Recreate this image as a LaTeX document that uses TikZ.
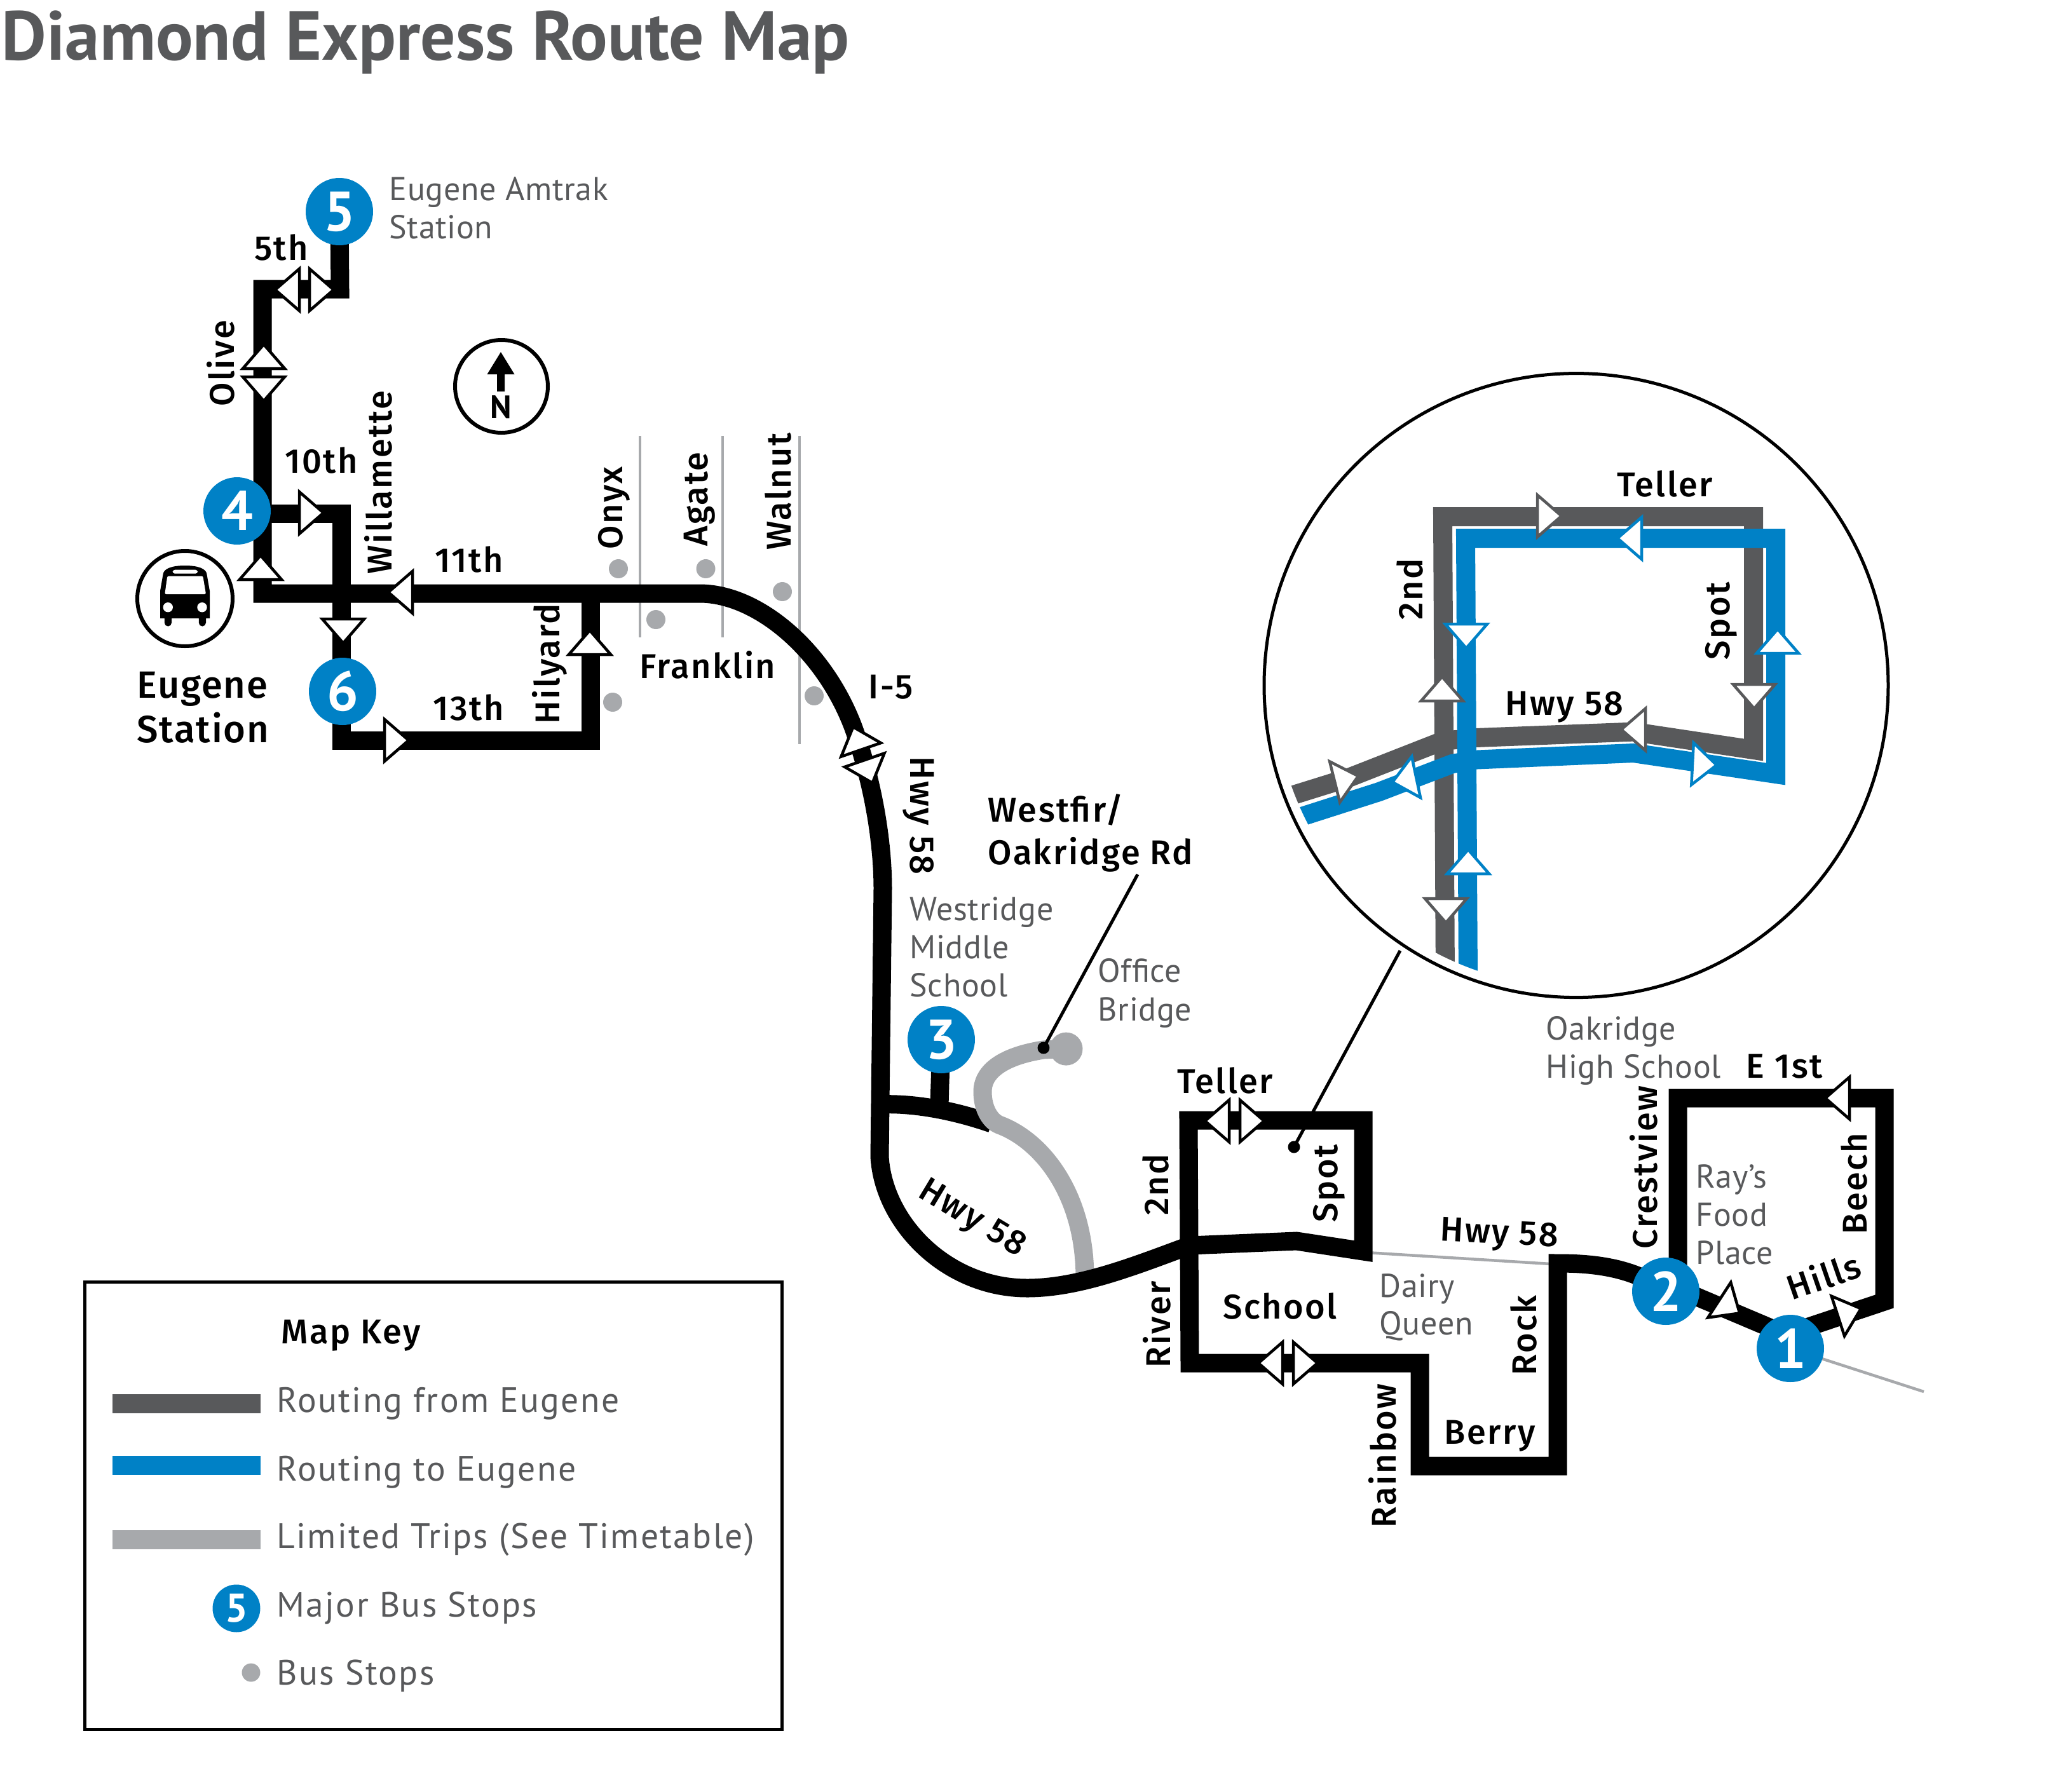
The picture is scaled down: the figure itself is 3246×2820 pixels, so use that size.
\documentclass[tikz,border=0pt]{standalone}
\usepackage{fontspec}
\setmainfont{PT Sans}
\newfontfamily\labfam{Fira Sans Medium}
\definecolor{rblue}{HTML}{0081C6}
\definecolor{rdark}{HTML}{58595B}
\definecolor{rlight}{HTML}{A7A9AC}
\newcommand{\fb}{\labfam\addfontfeature{LetterSpace=4.5}\fontsize{15.4pt}{16pt}\selectfont}
\newcommand{\fe}{\labfam\addfontfeature{LetterSpace=3}\fontsize{17pt}{17pt}\selectfont}
\newcommand{\fg}{\addfontfeature{LetterSpace=1.2}\fontsize{14.8pt}{16pt}\selectfont}
\newcommand{\fk}{\addfontfeature{LetterSpace=4.2}\fontsize{15.8pt}{16pt}\selectfont}
\newcommand{\arw}[4][black]{\draw[arrowtri,draw=#1,shift={(#2,#3)},rotate=#4] (-1,0) -- (-39,-33) -- (-39,33) -- cycle;}
\tikzset{
  arrowtri/.style={fill=white,line width=0.45mm,miter limit=10,line join=miter},
  route/.style={line width=2.9mm,black,line join=miter},
  inroute/.style={line width=3mm,line join=miter},
  thin grey/.style={line width=0.45mm,rlight},
  lead/.style={line width=0.5mm,black},
  lab/.style={font=\fb,anchor=base west,inner sep=0pt,text=black},
  glab/.style={font=\fg,anchor=base west,inner sep=0pt,text=rdark},
  klab/.style={font=\fk,anchor=base west,inner sep=0pt,text=rdark},
  stopn/.style={circle,fill=rblue,inner sep=0pt,minimum size=10.6mm,text=white,font=\fontsize{25pt}{25pt}\selectfont\bfseries},
  dot/.style={circle,fill=rlight,inner sep=0pt,minimum size=3mm},
  ring/.style={circle,draw=black,line width=0.6mm,fill=white,inner sep=0pt,minimum size=15mm},
}
\begin{document}
\begin{tikzpicture}[x=0.1mm,y=-0.1mm]
\useasboundingbox (0,0) rectangle (3246,2820);
\node[font=\fontsize{31.1pt}{32pt}\selectfont\bfseries,anchor=base west,inner sep=0pt,text=rdark] (title) at (2,94) {Diamond Express Route Map};

% coordinates of stops
\coordinate (p1) at (2817,2122);
\coordinate (p2) at (2621,2032);
\coordinate (p3) at (1481,1636);
\coordinate (p4) at (373,804);
\coordinate (p5) at (534,333);
\coordinate (p6) at (539,1088);
\coordinate (lim) at (1677.5,1650.6);

% thin grey street lines
\draw[thin grey] (1007,686) -- (1007,1003);
\draw[thin grey] (1137,686) -- (1137,1003);
\draw[thin grey] (1258,686) -- (1258,1171);
\draw[thin grey] (2150,1971) -- (2440,1989);
\draw[thin grey] (p1) -- (3027,2190);

% routes
\draw[route] (p3) -- (1478,1740);
\draw[route] (1384,1738) .. controls (1430,1736) and (1490,1744) .. (1560,1768);
\draw[line width=2.9mm,rlight] (lim) -- (1642,1652) .. controls (1590,1660) and (1546,1680) .. (1546,1718)
  .. controls (1546,1745) and (1558,1764) .. (1572,1770) .. controls (1640,1795) and (1707,1880) .. (1707,2011);
\draw[route] (p5) -- (535,455) -- (413,455) -- (413,934) -- (1101,934)
  .. controls (1190,934) and (1295,1020) .. (1342,1143) .. controls (1372,1225) and (1389,1320) .. (1389,1399)
  -- (1384,1820) .. controls (1390,1925) and (1490,2027) .. (1616,2027) .. controls (1700,2027) and (1790,1990) .. (1872,1960)
  -- (2040,1953) -- (2145,1969) -- (2145,1763) -- (1870,1763) -- (1872,2145) -- (2234,2145) -- (2234,2307) -- (2451,2307) -- (2451,1988)
  .. controls (2510,1988) and (2570,1995) .. (p2);
\draw[route] (413,808) -- (537,808) -- (537,1165) -- (929,1165) -- (929,934);
\draw[route] (p2) -- (2640,2032) -- (2640,1728) -- (2965,1728) -- (2965,2048) -- (2810,2100) -- (2621,2020);

% arrows on the black routes
\arw{432}{456}{180}\arw{526}{456}{0}
\arw{415}{541}{90}\arw{415}{632}{-90}
\arw{510}{807}{0}\arw{410}{873}{90}
\arw{610}{932}{180}\arw{540}{1013}{-90}
\arw{928}{991}{90}\arw{644}{1165}{0}
\arw{1342}{1143}{109}\arw{1373}{1233}{-71}
\arw{1895}{1764}{180}\arw{1990}{1764}{0}
\arw{1979}{2145}{180}\arw{2074}{2145}{0}
\arw{2871}{1728}{180}\arw{2738}{2067}{-33}\arw{2929}{2059}{18}

% leaders
\coordinate (lt1) at (1642,1649);
\coordinate (lt2) at (2036,1805);
\draw[lead] (lt1) -- (1790,1376);
\draw[lead] (lt2) -- (2203,1496);
\fill (lt1) circle[radius=9.5];
\fill (lt2) circle[radius=9.5];
\node[dot,minimum size=5.2mm] (limdot) at (lim) {};

% dots
\node[dot] (d1) at (973,895) {};
\node[dot] (d2) at (1110.5,895) {};
\node[dot] (d3) at (1032,975) {};
\node[dot] (d4) at (964,1105) {};
\node[dot] (d5) at (1231,931) {};
\node[dot] (d6) at (1281,1095) {};

% stops
\node[stopn] (s1) at (p1) {1};
\node[stopn] (s2) at (p2) {2};
\node[stopn] (s3) at (p3) {3};
\node[stopn] (s4) at (p4) {4};
\node[stopn] (s5) at (p5) {5};
\node[stopn] (s6) at (p6) {6};

% north
\node[ring,minimum size=14.6mm] (north) at (789,608) {};
\fill (788,554) -- (809.5,589) -- (794,589) -- (794,616) -- (782,616) -- (782,589) -- (766.5,589) -- cycle;
\node[font=\fontsize{14.5pt}{15pt}\selectfont\bfseries,inner sep=0pt,text=black] (nlab) at (788,641) {N};

% bus
\node[ring] (busring) at (291,942) {};
\fill (252,973) -- (252,930) -- (256.7,903) .. controls (258,895) and (270,890) .. (291,890) .. controls (312,890) and (324,895) .. (325.3,903) -- (330,930) -- (330,973) -- (324,973) -- (324,980) arc[start angle=0,end angle=180,radius=5.6] -- (312.8,973) -- (270,973) -- (270,980) arc[start angle=0,end angle=180,radius=5.6] -- (258.8,973) -- cycle;
\fill[white,rounded corners=0.6pt] (263.3,906.7) -- (319.3,906.7) -- (324,935) -- (259.3,935) -- cycle;
\fill[white,rounded corners=1pt] (271.7,896.7) rectangle (311,902.7);
\fill[white] (264.3,955.7) circle[radius=7.7];
\fill[white] (318,955.7) circle[radius=7.7];

% inset
\begin{scope}
\clip (2480,1078.6) circle[radius=475];
\draw[inroute,rdark] (2274,1540) -- (2270,813) -- (2759,813) -- (2759,1180) -- (2570,1151.6) -- (2322,1161) -- (2270,1166) -- (2122,1224) -- (2000,1262);
\draw[inroute,rblue] (2310,1540) -- (2306,847) -- (2794,847) -- (2794,1218) -- (2570,1185) -- (2322,1195.6) -- (2285,1202) -- (2170,1246) -- (2020,1294);
\end{scope}
\draw[line width=0.5mm,black] (2480,1078.6) circle[radius=491];
\arw[rdark]{2458}{812}{0}\arw[rblue]{2544}{847}{180}
\arw[rblue]{2307}{1021}{-90}\arw[rdark]{2269}{1064}{90}
\arw[rdark]{2760}{1116}{-90}\arw[rblue]{2797}{989}{90}
\arw[rdark]{2550}{1148}{180}\arw[rblue]{2702}{1204}{-3}
\arw[rdark]{2138}{1221}{14}\arw[rblue]{2190}{1231}{192}
\arw[rblue]{2310}{1336}{90}\arw[rdark]{2275}{1453}{-90}

% street labels
\node[lab] (l5th) at (400,409) {5th};
\node[lab,rotate=90] (lolive) at (368,640) {Olive};
\node[lab,rotate=90] (lwill) at (616,904) {Willamette};
\node[lab] (l10) at (448,744) {10th};
\node[lab] (l11) at (684,900) {11th};
\node[lab,rotate=90] (lonyx) at (979,865) {Onyx};
\node[lab,rotate=90] (lagate) at (1113,860) {Agate};
\node[lab,rotate=90] (lwal) at (1244,866) {Walnut};
\node[lab] (lfrank) at (1006,1067) {Franklin};
\node[lab,rotate=90] (lhil) at (880,1140) {Hilyard};
\node[lab] (l13) at (681,1133) {13th};
\node[lab,font=\fe] (leu) at (215,1098) {Eugene};
\node[lab,font=\fe] (lst) at (215,1168) {Station};
\node[lab] (li5) at (1366,1099) {I-5};
\node[lab,rotate=-90] (lh1) at (1432,1190) {Hwy 58};
\node[lab] (lw1) at (1554,1293) {Westfir/};
\node[lab] (lw2) at (1554,1360) {Oakridge Rd};
\node[lab,rotate=-31] (lh2) at (1442,1882) {Hwy 58};
\node[lab] (lt) at (1852,1720) {Teller};
\node[lab,rotate=90] (l2nd) at (1838,1913) {2nd};
\node[lab,rotate=90] (lriv) at (1841,2153) {River};
\node[lab] (lsch) at (1924,2075) {School};
\node[lab,rotate=90] (lspot) at (2104,1924) {Spot};
\node[lab,rotate=-3] (lh3) at (2265,1952) {Hwy 58};
\node[lab,rotate=90] (lrain) at (2196,2405) {Rainbow};
\node[lab] (lber) at (2272,2272) {Berry};
\node[lab,rotate=90] (lrock) at (2417,2165) {Rock};
\node[lab] (le1) at (2747,1696) {E 1st};
\node[lab,rotate=90] (lcrest) at (2607,1966) {Crestview};
\node[lab,rotate=90] (lbeech) at (2937,1943) {Beech};
\node[lab,rotate=19] (lhills) at (2819,2047) {Hills};
% inset labels
\node[lab] (it) at (2544,781) {Teller};
\node[lab,rotate=90] (i2) at (2238,976) {2nd};
\node[lab,rotate=90] (is) at (2721,1039) {Spot};
\node[lab] (ih) at (2368,1125) {Hwy 58};

% place labels
\node[glab] (g1) at (612,315) {Eugene Amtrak};
\node[glab] (g2) at (612,375) {Station};
\node[glab] (g3) at (1431,1448) {Westridge};
\node[glab] (g4) at (1431,1508) {Middle};
\node[glab] (g5) at (1431,1568) {School};
\node[glab] (g6) at (1727,1545) {Office};
\node[glab] (g7) at (1727,1606) {Bridge};
\node[glab] (g8) at (2170,2041) {Dairy};
\node[glab] (g9) at (2170,2100) {Queen};
\node[glab] (g10) at (2432,1636) {Oakridge};
\node[glab] (g11) at (2432,1696) {High School};
\node[glab] (g12) at (2668,1869) {Ray's};
\node[glab] (g13) at (2668,1929) {Food};
\node[glab] (g14) at (2668,1989) {Place};

% key
\draw[line width=0.5mm,black] (133,2017) rectangle (1230,2721);
\node[lab] (kt) at (442,2114) {Map Key};
\fill[rdark] (177,2194) rectangle (410,2224);
\fill[rblue] (177,2291) rectangle (410,2321);
\fill[rlight] (177,2408) rectangle (410,2438);
\node[stopn,minimum size=7.5mm,font=\fontsize{18pt}{18pt}\selectfont\bfseries] (k5) at (372,2531) {5};
\node[dot,minimum size=2.9mm] (kd) at (395,2632) {};
\node[klab] (k1) at (435,2222) {Routing from Eugene};
\node[klab] (k2) at (435,2330) {Routing to Eugene};
\node[klab] (k3) at (435,2436) {Limited Trips (See Timetable)};
\node[klab] (k4) at (435,2544) {Major Bus Stops};
\node[klab] (k5t) at (435,2651) {Bus Stops};
\end{tikzpicture}
\end{document}
